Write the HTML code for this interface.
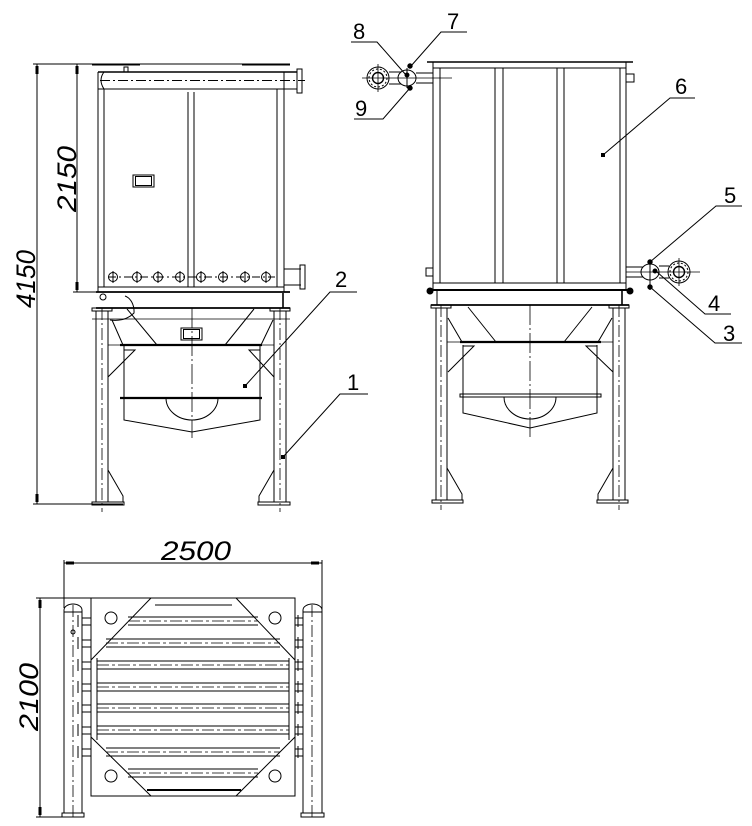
<!DOCTYPE html>
<html><head><meta charset="utf-8"><style>
html,body{margin:0;padding:0;background:#fff}
svg{display:block}
text{font-family:"Liberation Sans",sans-serif;fill:#000}
</style></head><body>
<svg width="752" height="826" viewBox="0 0 752 826" xmlns="http://www.w3.org/2000/svg" stroke="#000" fill="none" stroke-width="1">
<!-- ===== LEFT VIEW ===== -->
<line x1="37" y1="64" x2="37" y2="504"/>
<line x1="33" y1="64" x2="140" y2="64"/>
<line x1="33" y1="504" x2="123" y2="504"/>
<line x1="77" y1="64" x2="77" y2="292"/>
<line x1="73" y1="292" x2="290" y2="292"/>
<path d="M35.5 66h3v8h-3z M35.5 494h3v8h-3z M75.5 66h3v8h-3z M75.5 282h3v8h-3z" fill="#000" stroke="none"/>
<text transform="translate(35,279) rotate(-90)" font-size="27" font-style="italic" text-anchor="middle" textLength="58" lengthAdjust="spacingAndGlyphs" stroke="none">4150</text>
<text transform="translate(76,179) rotate(-90)" font-size="27" font-style="italic" text-anchor="middle" textLength="66" lengthAdjust="spacingAndGlyphs" stroke="none">2150</text>
<line x1="92" y1="64" x2="290" y2="64"/>
<line x1="92" y1="64.5" x2="140" y2="64.5" stroke-width="2"/>
<line x1="242" y1="64.5" x2="290" y2="64.5" stroke-width="2"/>
<rect x="124" y="67" width="4" height="5"/>
<line x1="98" y1="72" x2="297" y2="72" stroke-width="1.6"/>
<line x1="98" y1="89" x2="297" y2="89"/>
<path d="M104 72 Q98 80 104 89"/>
<line x1="100" y1="80.5" x2="305" y2="80.5" stroke-dasharray="10,3,2,3"/>
<rect x="297" y="69" width="5" height="24"/>
<line x1="98" y1="72" x2="98" y2="292"/>
<line x1="104" y1="89" x2="104" y2="287"/>
<line x1="277" y1="89" x2="277" y2="287"/>
<line x1="284" y1="72" x2="284" y2="292"/>
<line x1="188" y1="92" x2="188" y2="287"/>
<line x1="194" y1="92" x2="194" y2="287"/>
<line x1="98" y1="287" x2="284" y2="287"/>
<line x1="96" y1="292" x2="290" y2="292" stroke-width="1.8"/>
<rect x="133" y="175" width="21" height="12"/>
<rect x="135.5" y="176.5" width="16" height="9"/>
<line x1="108" y1="277" x2="275" y2="277" stroke-dasharray="8,3,2,3"/>
<g>
<circle cx="113" cy="277" r="4.5"/><circle cx="137" cy="277" r="4.5"/><circle cx="158" cy="277" r="4.5"/><circle cx="180" cy="277" r="4.5"/>
<circle cx="201" cy="277" r="4.5"/><circle cx="223" cy="277" r="4.5"/><circle cx="245" cy="277" r="4.5"/><circle cx="266" cy="277" r="4.5"/>
<path d="M113 271v12M137 271v12M158 271v12M180 271v12M201 271v12M223 271v12M245 271v12M266 271v12"/>
</g>
<line x1="284" y1="269" x2="301" y2="269"/>
<line x1="284" y1="285" x2="301" y2="285"/>
<rect x="300" y="265" width="5" height="24"/>
<line x1="283" y1="293" x2="283" y2="308" stroke-width="1.6"/>
<line x1="96" y1="308" x2="290" y2="308" stroke-width="1.8"/>
<circle cx="103" cy="297" r="3"/>
<path d="M125 296 A12 16 0 0 1 134 313 Q125 322 110 320"/>
<line x1="92" y1="319" x2="290" y2="319" stroke-width="0.8"/>
<rect x="92" y="308" width="20" height="3"/>
<rect x="270" y="308" width="20" height="3"/>
<line x1="96" y1="311" x2="96" y2="502"/>
<line x1="108" y1="311" x2="108" y2="502"/>
<line x1="274" y1="311" x2="274" y2="502"/>
<line x1="286" y1="311" x2="286" y2="502"/>
<line x1="102" y1="308" x2="102" y2="512" stroke-dasharray="12,3,2,3" stroke-width="0.8"/>
<line x1="280" y1="308" x2="280" y2="512" stroke-dasharray="12,3,2,3" stroke-width="0.8"/>
<path d="M108 470 L123 496 L123 502 M274 470 L259 496 L259 502"/>
<rect x="92" y="502" width="32" height="3"/>
<rect x="258" y="502" width="32" height="3"/>
<line x1="192" y1="308" x2="192" y2="438" stroke-dasharray="20,3,2,3" stroke-width="0.8"/>
<path d="M127 309 L157 345 M254 309 L225 345 M112 320 L123 345 M273 320 L261 345"/>
<line x1="120" y1="345" x2="262" y2="345" stroke-width="2.2"/>
<line x1="108" y1="345" x2="274" y2="345" stroke-width="0.8"/>
<path d="M124 345 V420 L192 432 L260 420 V345"/>
<path d="M124 350 L135 350 L108 377 M260 350 L249 350 L274 377"/>
<line x1="120" y1="398" x2="262" y2="398" stroke-width="2.2"/>
<path d="M166 398 A26 22 0 0 0 218 398"/>
<rect x="181" y="328" width="21" height="12"/>
<rect x="183.5" y="329.5" width="16" height="9"/>
<text x="335" y="287" font-size="22" stroke="none">2</text>
<path d="M357 292 H330 L245 386"/>
<rect x="243" y="384" width="4" height="4" fill="#000" stroke="none"/>
<text x="347" y="390" font-size="22" stroke="none">1</text>
<path d="M368 394 H340 L283 457"/>
<rect x="281" y="455" width="4" height="4" fill="#000" stroke="none"/>

<!-- ===== RIGHT VIEW ===== -->
<line x1="427" y1="62" x2="633" y2="62" stroke-width="1.6"/>
<line x1="433" y1="68" x2="626" y2="68"/>
<line x1="433" y1="62" x2="433" y2="290"/>
<line x1="440" y1="68" x2="440" y2="283"/>
<line x1="620" y1="68" x2="620" y2="283"/>
<line x1="626" y1="62" x2="626" y2="290"/>
<line x1="495" y1="68" x2="495" y2="283"/>
<line x1="503" y1="68" x2="503" y2="283"/>
<line x1="557" y1="68" x2="557" y2="283"/>
<line x1="564" y1="68" x2="564" y2="283"/>
<line x1="433" y1="283" x2="626" y2="283"/>
<line x1="430" y1="290" x2="630" y2="290" stroke-width="2"/>
<circle cx="430" cy="291" r="3" fill="#000"/>
<circle cx="630" cy="291" r="3" fill="#000"/>
<rect x="626" y="74" width="8" height="8"/>
<rect x="426" y="268" width="7" height="8"/>
<line x1="437" y1="290" x2="437" y2="305"/>
<line x1="622" y1="290" x2="622" y2="305" stroke-width="1.6"/>
<line x1="431" y1="305" x2="629" y2="305" stroke-width="1.8"/>
<rect x="431" y="305" width="20" height="3"/>
<rect x="609" y="305" width="20" height="3"/>
<line x1="436" y1="308" x2="436" y2="500"/>
<line x1="447" y1="308" x2="447" y2="500"/>
<line x1="613" y1="308" x2="613" y2="500"/>
<line x1="625" y1="308" x2="625" y2="500"/>
<line x1="441" y1="305" x2="441" y2="510" stroke-dasharray="12,3,2,3" stroke-width="0.8"/>
<line x1="619" y1="305" x2="619" y2="510" stroke-dasharray="12,3,2,3" stroke-width="0.8"/>
<path d="M447 468 L462 494 L462 500 M613 468 L598 494 L598 500"/>
<rect x="432" y="500" width="31" height="3"/>
<rect x="597" y="500" width="31" height="3"/>
<line x1="530" y1="305" x2="530" y2="438" stroke-dasharray="20,3,2,3" stroke-width="0.8"/>
<path d="M468 307 L496 342 M592 307 L564 342 M448 318 L462 342 M612 318 L598 342"/>
<line x1="460" y1="342" x2="601" y2="342" stroke-width="2.2"/>
<line x1="447" y1="342" x2="613" y2="342" stroke-width="0.8"/>
<path d="M463 345 V413 L530 428 L597 413 V345"/>
<path d="M463 346 L474 346 L448 372 M597 346 L586 346 L613 372"/>
<rect x="460" y="394" width="141" height="3"/>
<path d="M504 397 A26 22 0 0 0 556 397"/>
<line x1="362" y1="78" x2="452" y2="78" stroke-width="0.8"/>
<circle cx="378" cy="78" r="11"/>
<circle cx="378" cy="78" r="9" stroke-dasharray="2,2"/>
<circle cx="378" cy="78" r="5.5" stroke-width="1.4"/>
<line x1="378" y1="64" x2="378" y2="92" stroke-width="0.8"/>
<line x1="389" y1="72" x2="401" y2="72"/>
<line x1="389" y1="84" x2="401" y2="84"/>
<ellipse cx="407" cy="78" rx="9" ry="8"/>
<line x1="407" y1="68" x2="407" y2="88"/>
<line x1="416" y1="73" x2="433" y2="73"/>
<line x1="416" y1="83" x2="433" y2="83"/>
<circle cx="410" cy="66" r="2.2" fill="#000"/>
<circle cx="407" cy="75" r="2" fill="#000"/>
<circle cx="410" cy="88" r="2.2" fill="#000"/>
<line x1="626" y1="272" x2="700" y2="272" stroke-width="0.8"/>
<line x1="626" y1="267" x2="643" y2="267"/>
<line x1="626" y1="277" x2="643" y2="277"/>
<ellipse cx="650" cy="272" rx="9" ry="8"/>
<line x1="650" y1="262" x2="650" y2="290"/>
<line x1="659" y1="266" x2="669" y2="266"/>
<line x1="659" y1="278" x2="669" y2="278"/>
<circle cx="679" cy="272" r="11"/>
<circle cx="679" cy="272" r="9" stroke-dasharray="2,2"/>
<circle cx="679" cy="272" r="5.5" stroke-width="1.4"/>
<line x1="679" y1="258" x2="679" y2="286" stroke-width="0.8"/>
<circle cx="650" cy="262" r="2.2" fill="#000"/>
<circle cx="655" cy="271" r="2" fill="#000"/>
<circle cx="650" cy="287" r="2.2" fill="#000"/>
<text x="353" y="39" font-size="22" stroke="none">8</text>
<path d="M351 42 H377 L406 75"/>
<text x="447" y="29" font-size="22" stroke="none">7</text>
<path d="M467 32 H441 L411 66"/>
<text x="355" y="116" font-size="22" stroke="none">9</text>
<path d="M354 119 H383 L410 88"/>
<text x="675" y="94" font-size="22" stroke="none">6</text>
<path d="M695 98 H670 L603 155"/>
<rect x="601" y="153" width="4" height="4" fill="#000" stroke="none"/>
<text x="724" y="203" font-size="22" stroke="none">5</text>
<path d="M742 206 H716 L650 262"/>
<text x="708" y="311" font-size="22" stroke="none">4</text>
<path d="M731 314 H705 L657 272"/>
<text x="723" y="341" font-size="22" stroke="none">3</text>
<path d="M742 343 H715 L650 287"/>

<!-- ===== BOTTOM VIEW ===== -->
<line x1="64" y1="563" x2="322" y2="563"/>
<line x1="64" y1="560" x2="64" y2="608"/>
<line x1="322" y1="560" x2="322" y2="612"/>
<path d="M66 561.5h8v3h-8z M311 561.5h8v3h-8z" fill="#000" stroke="none"/>
<text x="196" y="560" font-size="27" font-style="italic" text-anchor="middle" textLength="70" lengthAdjust="spacingAndGlyphs" stroke="none">2500</text>
<line x1="40" y1="598" x2="40" y2="817"/>
<line x1="36" y1="598" x2="91" y2="598"/>
<line x1="36" y1="817" x2="63" y2="817"/>
<path d="M38.5 600h3v8h-3z M38.5 807h3v8h-3z" fill="#000" stroke="none"/>
<text transform="translate(38,697) rotate(-90)" font-size="27" font-style="italic" text-anchor="middle" textLength="68" lengthAdjust="spacingAndGlyphs" stroke="none">2100</text>
<rect x="91" y="598" width="204" height="198"/>
<path d="M151 598 L91 660 M236 598 L295 660 M91 737 L151 796 M295 737 L236 796"/>
<line x1="97" y1="658" x2="97" y2="740"/>
<line x1="289" y1="658" x2="289" y2="740"/>
<circle cx="111" cy="618" r="6"/><circle cx="275" cy="618" r="6"/>
<circle cx="111" cy="776" r="6"/><circle cx="275" cy="776" r="6"/>
<line x1="147" y1="790" x2="241" y2="790" stroke-width="2"/>
<line x1="155" y1="605" x2="232" y2="605"/>
<g>
<line x1="128" y1="617" x2="258" y2="617"/><line x1="128" y1="625" x2="258" y2="625"/>
<line x1="128" y1="621" x2="258" y2="621" stroke-dasharray="12,3,3,3" stroke-width="0.8"/>
<line x1="106" y1="639" x2="280" y2="639"/><line x1="106" y1="647" x2="280" y2="647"/>
<line x1="106" y1="643" x2="280" y2="643" stroke-dasharray="12,3,3,3" stroke-width="0.8"/>
<line x1="97" y1="661" x2="289" y2="661"/><line x1="97" y1="669" x2="289" y2="669"/>
<line x1="97" y1="665" x2="289" y2="665" stroke-dasharray="12,3,3,3" stroke-width="0.8"/>
<line x1="97" y1="683" x2="289" y2="683"/><line x1="97" y1="691" x2="289" y2="691"/>
<line x1="97" y1="687" x2="289" y2="687" stroke-dasharray="12,3,3,3" stroke-width="0.8"/>
<line x1="97" y1="704" x2="289" y2="704"/><line x1="97" y1="712" x2="289" y2="712"/>
<line x1="97" y1="708" x2="289" y2="708" stroke-dasharray="12,3,3,3" stroke-width="0.8"/>
<line x1="97" y1="726" x2="289" y2="726"/><line x1="97" y1="734" x2="289" y2="734"/>
<line x1="97" y1="730" x2="289" y2="730" stroke-dasharray="12,3,3,3" stroke-width="0.8"/>
<line x1="106" y1="748" x2="280" y2="748"/><line x1="106" y1="756" x2="280" y2="756"/>
<line x1="106" y1="752" x2="280" y2="752" stroke-dasharray="12,3,3,3" stroke-width="0.8"/>
<line x1="128" y1="769" x2="258" y2="769"/><line x1="128" y1="777" x2="258" y2="777"/>
<line x1="128" y1="773" x2="258" y2="773" stroke-dasharray="12,3,3,3" stroke-width="0.8"/>
</g>
<g>
<path d="M82 618h9M82 625h9M82 640h9M82 647h9M82 662h9M82 669h9M82 684h9M82 691h9M82 705h9M82 712h9M82 727h9M82 734h9M82 749h9M82 756h9"/>
<path d="M295 618h8M295 625h8M295 640h8M295 647h8M295 662h8M295 669h8M295 684h8M295 691h8M295 705h8M295 712h8M295 727h8M295 734h8M295 749h8M295 756h8"/>
<path d="M78 615v12M78 637v12M78 659v12M78 681v12M78 702v12M78 724v12M78 746v12"/>
<path d="M298 615v12M298 637v12M298 659v12M298 681v12M298 702v12M298 724v12M298 746v12"/>
</g>
<path d="M64 813 V610 A9 6 0 0 1 82 610 V813"/>
<line x1="64" y1="612" x2="82" y2="612"/>
<path d="M303 813 V610 A9.5 6 0 0 1 322 610 V813"/>
<line x1="303" y1="612" x2="322" y2="612"/>
<line x1="73" y1="605" x2="73" y2="820" stroke-dasharray="12,3,2,3" stroke-width="0.8"/>
<line x1="312" y1="605" x2="312" y2="820" stroke-dasharray="12,3,2,3" stroke-width="0.8"/>
<circle cx="73" cy="632" r="2"/>
<rect x="62" y="813" width="22" height="4"/>
<rect x="301" y="813" width="23" height="4"/>
</svg>
</body></html>
